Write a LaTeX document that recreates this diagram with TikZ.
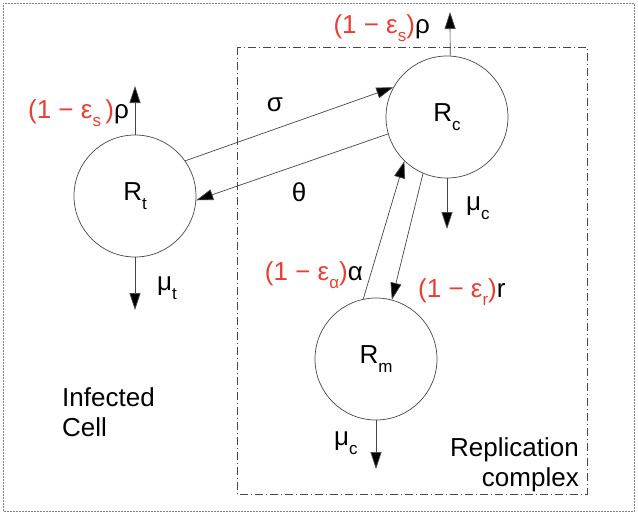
\documentclass[tikz,border=0pt]{standalone}
\usepackage{fontspec}
\setmainfont{Liberation Sans}
\usetikzlibrary{arrows.meta}
\definecolor{lred}{RGB}{232,62,52}
\definecolor{lgray}{RGB}{70,70,70}
\newcommand{\sbs}[1]{\raisebox{-0.33em}{\fontsize{17}{17}\selectfont #1}}
\begin{document}
\begin{tikzpicture}[x=1pt,y=-1pt,
  every node/.style={font=\fontsize{26}{30}\selectfont},
  state/.style={circle,draw=lgray,line width=0.7pt,minimum size=122pt,inner sep=0pt},
  flow/.style={draw=lgray,line width=0.7pt,-{Triangle[length=17pt,width=11pt,fill=black]}},
  lab/.style={inner sep=0pt}]
\useasboundingbox (0,0) rectangle (638,515);
\draw[gray,densely dotted,line width=0.5pt] (3,3) rectangle (634,511);
\draw[lgray,line width=0.6pt,dash pattern=on 8pt off 3pt on 1pt off 3pt] (237,47) rectangle (587,494);

\node[state] (rt) at (135,196) {R\sbs{t}};
\node[state] (rc) at (447,117) {R\sbs{c}};
\node[state] (rm) at (376,359) {R\sbs{m}};

\coordinate (rtup) at (135,86);
\coordinate (rtdn) at (135,310);
\coordinate (rcup) at (450,12);
\coordinate (rcdn) at (447,229);
\coordinate (rmdn) at (376,469);

\draw[flow] (rt.north) -- (rtup);
\draw[flow] (rt.south) -- (rtdn);
\draw[flow] (rc.87) -- (rcup);
\draw[flow] (rc.south) -- (rcdn);
\draw[flow] (rm.south) -- (rmdn);
\draw[flow] (rt.35) -- (rc.151);
\draw[flow] (rc.196) -- (rt.356);
\draw[flow] (rm.102) -- (rc.226);
\draw[flow] (rc.247) -- (rm.75);

\node[lab,anchor=east] (l1) at (129,113) {\textcolor{lred}{(1 − ε\sbs{s}\,)}ρ};
\node[lab,anchor=west] (l2) at (157,288) {μ\sbs{t}};
\node[lab,anchor=east] (l3) at (430,28) {\textcolor{lred}{(1 − ε\sbs{s})}ρ};
\node[lab,anchor=west] (l4) at (466,208) {μ\sbs{c}};
\node[lab] (l5) at (275,105) {σ};
\node[lab] (l6) at (299,192) {θ};
\node[lab,anchor=east] (l7) at (363,275) {\textcolor{lred}{(1 − ε\sbs{α})}α};
\node[lab,anchor=west] (l8) at (418,292) {\textcolor{lred}{(1 − ε\sbs{r})}r};
\node[lab,anchor=west] (l9) at (334,443) {μ\sbs{c}};
\node[lab,anchor=west,align=left] (ic) at (62,412) {Infected\\Cell};
\node[lab,anchor=east,align=right] (rcx) at (579,465) {Replication\\complex};
\end{tikzpicture}
\end{document}
